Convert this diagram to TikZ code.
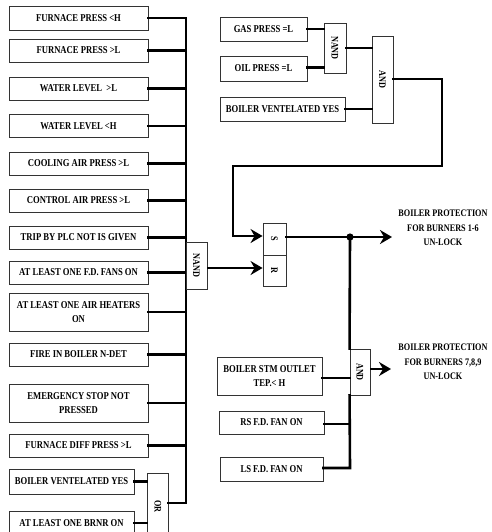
\documentclass[tikz,border=0pt]{standalone}
\usepackage{fontspec}
\setmainfont{Liberation Serif}[FakeStretch=0.82]
\usetikzlibrary{arrows.meta,calc}
\begin{document}
\begin{tikzpicture}[x=1pt,y=-1pt,
  box/.style={draw=black!80,line width=0.9pt,fill=white,inner sep=1pt,align=center,
     font=\fontsize{10.5}{13.5}\selectfont\bfseries,anchor=center},
  gate/.style={draw=black!80,line width=0.9pt,fill=white,inner sep=0pt,anchor=center},
  gtext/.style={rotate=-90,font=\fontsize{10}{12}\selectfont\bfseries,inner sep=0pt},
  conn/.style={line width=2.6pt,line cap=rect},
  arr/.style={line width=2.6pt,-{Stealth[length=12pt,width=14pt,inset=4pt]}},
  outlbl/.style={align=center,font=\fontsize{10}{14.5}\selectfont\bfseries,inner sep=0pt}]
\useasboundingbox (0,0) rectangle (491,532);
\clip (0,0) rectangle (491,532);
\coordinate (bus) at (186,0);
% left boxes
\node[box,minimum width=139,minimum height=24] (b1) at (78.5,18) {FURNACE PRESS <H};
\node[box,minimum width=139,minimum height=23] (b2) at (78.5,50.5) {FURNACE PRESS >L};
\node[box,minimum width=139,minimum height=23] (b3) at (78.5,88.5) {WATER LEVEL \ >L};
\node[box,minimum width=139,minimum height=23] (b4) at (78.5,126) {WATER LEVEL <H};
\node[box,minimum width=139,minimum height=23] (b5) at (78.5,163.5) {COOLING AIR PRESS >L};
\node[box,minimum width=139,minimum height=23] (b6) at (78.5,200.5) {CONTROL AIR PRESS >L};
\node[box,minimum width=139,minimum height=23] (b7) at (78.5,237.5) {TRIP BY PLC NOT IS GIVEN};
\node[box,minimum width=139,minimum height=23] (b8) at (78.5,272.5) {AT LEAST ONE F.D. FANS ON};
\node[box,minimum width=139,minimum height=38] (b9) at (78.5,312) {AT LEAST ONE AIR HEATERS\\ON};
\node[box,minimum width=139,minimum height=23] (b10) at (78.5,354.5) {FIRE IN BOILER N-DET};
\node[box,minimum width=139,minimum height=38] (b11) at (78.5,403) {EMERGENCY STOP NOT\\PRESSED};
\node[box,minimum width=139,minimum height=23] (b12) at (78.5,445.5) {FURNACE DIFF PRESS >L};
\node[box,minimum width=125,minimum height=25] (b13) at (71.5,481.5) {BOILER VENTELATED YES};
\node[box,minimum width=125,minimum height=24] (b14) at (71.5,523) {AT LEAST ONE BRNR ON};
% OR gate
\node[gate,minimum width=21,minimum height=67] (or) at (158,506.5) {};
\node[gtext] (ortxt) at (or) {OR};
\coordinate (orout) at (168,503);
\draw[conn] (b13.east) -- (b13.east -| or.west);
\draw[conn] (b14.east) -- (b14.east -| or.west);
% bus
\draw[conn] (b1.east -| bus) -- (orout -| bus) -- (orout);
\foreach \b in {b1,b2,b3,b4,b5,b6,b7,b8,b9,b10,b11,b12}{
  \draw[conn] (\b.east) -- (\b.east -| bus);
}
% NAND big
\node[gate,minimum width=21,minimum height=47] (nand) at (196.5,265.5) {};
\node[gtext] (nandtxt) at (nand) {NAND};
% SR
\node[gate,minimum width=23,minimum height=32] (s) at (274.5,239) {};
\node[gtext] (stxt) at (s) {S};
\node[gate,minimum width=23,minimum height=31] (r) at (274.5,270.5) {};
\node[gtext] (rtxt) at (r) {R};
\coordinate (nout) at (207,268);
\draw[arr] (nout) -- (nout -| r.west);
% top right
\node[box,minimum width=87,minimum height=24] (gas) at (263.5,29) {GAS PRESS =L};
\node[box,minimum width=87,minimum height=25] (oil) at (263.5,68.5) {OIL PRESS =L};
\node[box,minimum width=125,minimum height=24] (bv2) at (282.5,109) {BOILER VENTELATED YES};
\node[gate,minimum width=22,minimum height=50] (nand2) at (335,48) {};
\node[gtext] (nand2txt) at (nand2) {NAND};
\node[gate,minimum width=21,minimum height=87] (and1) at (382.5,79.5) {};
\node[gtext] (and1txt) at (and1) {AND};
\draw[conn] (gas.east) -- (gas.east -| nand2.west);
\draw[conn] ($(oil.east)+(0,-1)$) -- ($(oil.east -| nand2.west)+(0,-1)$);
\draw[conn] (nand2.east) -- (nand2.east -| and1.west);
\draw[conn] (bv2.east) -- (bv2.east -| and1.west);
\coordinate (a1) at (442,79);
\coordinate (a2) at (442,166);
\coordinate (a3) at (233,166);
\coordinate (sin) at (233,236);
\draw[conn] (a1 -| and1.east) -- (a1) -- (a2) -- (a3) -- (sin);
\draw[arr] (sin) -- (sin -| s.west);
% outputs
\coordinate (dot) at (350,237);
\coordinate (out1) at (392,237);
\draw[conn] (dot -| s.east) -- (dot);
\draw[arr] (dot) -- (out1);
\fill (dot) circle (3.6pt);
\node[outlbl] (lbl1) at (443,228) {BOILER PROTECTION\\FOR BURNERS 1-6\\UN-LOCK};
% lower AND
\node[gate,minimum width=20,minimum height=46] (and2) at (360,372) {};
\node[gtext] (and2txt) at (and2) {AND};
\node[box,minimum width=105,minimum height=38] (stm) at (269.5,376) {BOILER STM OUTLET\\TEP.< H};
\node[box,minimum width=105,minimum height=23] (rs) at (271.5,422.5) {RS F.D. FAN ON};
\node[box,minimum width=103,minimum height=24] (ls) at (271.5,469) {LS F.D. FAN ON};
\coordinate (lbot) at (350,468);
\draw[conn] (dot) -- (and2.north west);
\draw[conn] (and2.south west) -- (lbot) -- (ls.east |- lbot);
\draw[conn] ($(stm.east)+(0,2)$) -- ($(stm.east -| and2.west)+(0,2)$);
\draw[conn] ($(rs.east)+(0,1.5)$) -- ($(rs.east -| lbot)+(0,1.5)$);
\coordinate (out2) at (391,369);
\draw[arr] (out2 -| and2.east) -- (out2);
\node[outlbl] (lbl2) at (443,362) {BOILER PROTECTION\\FOR BURNERS 7,8,9\\UN-LOCK};
\end{tikzpicture}
\end{document}
